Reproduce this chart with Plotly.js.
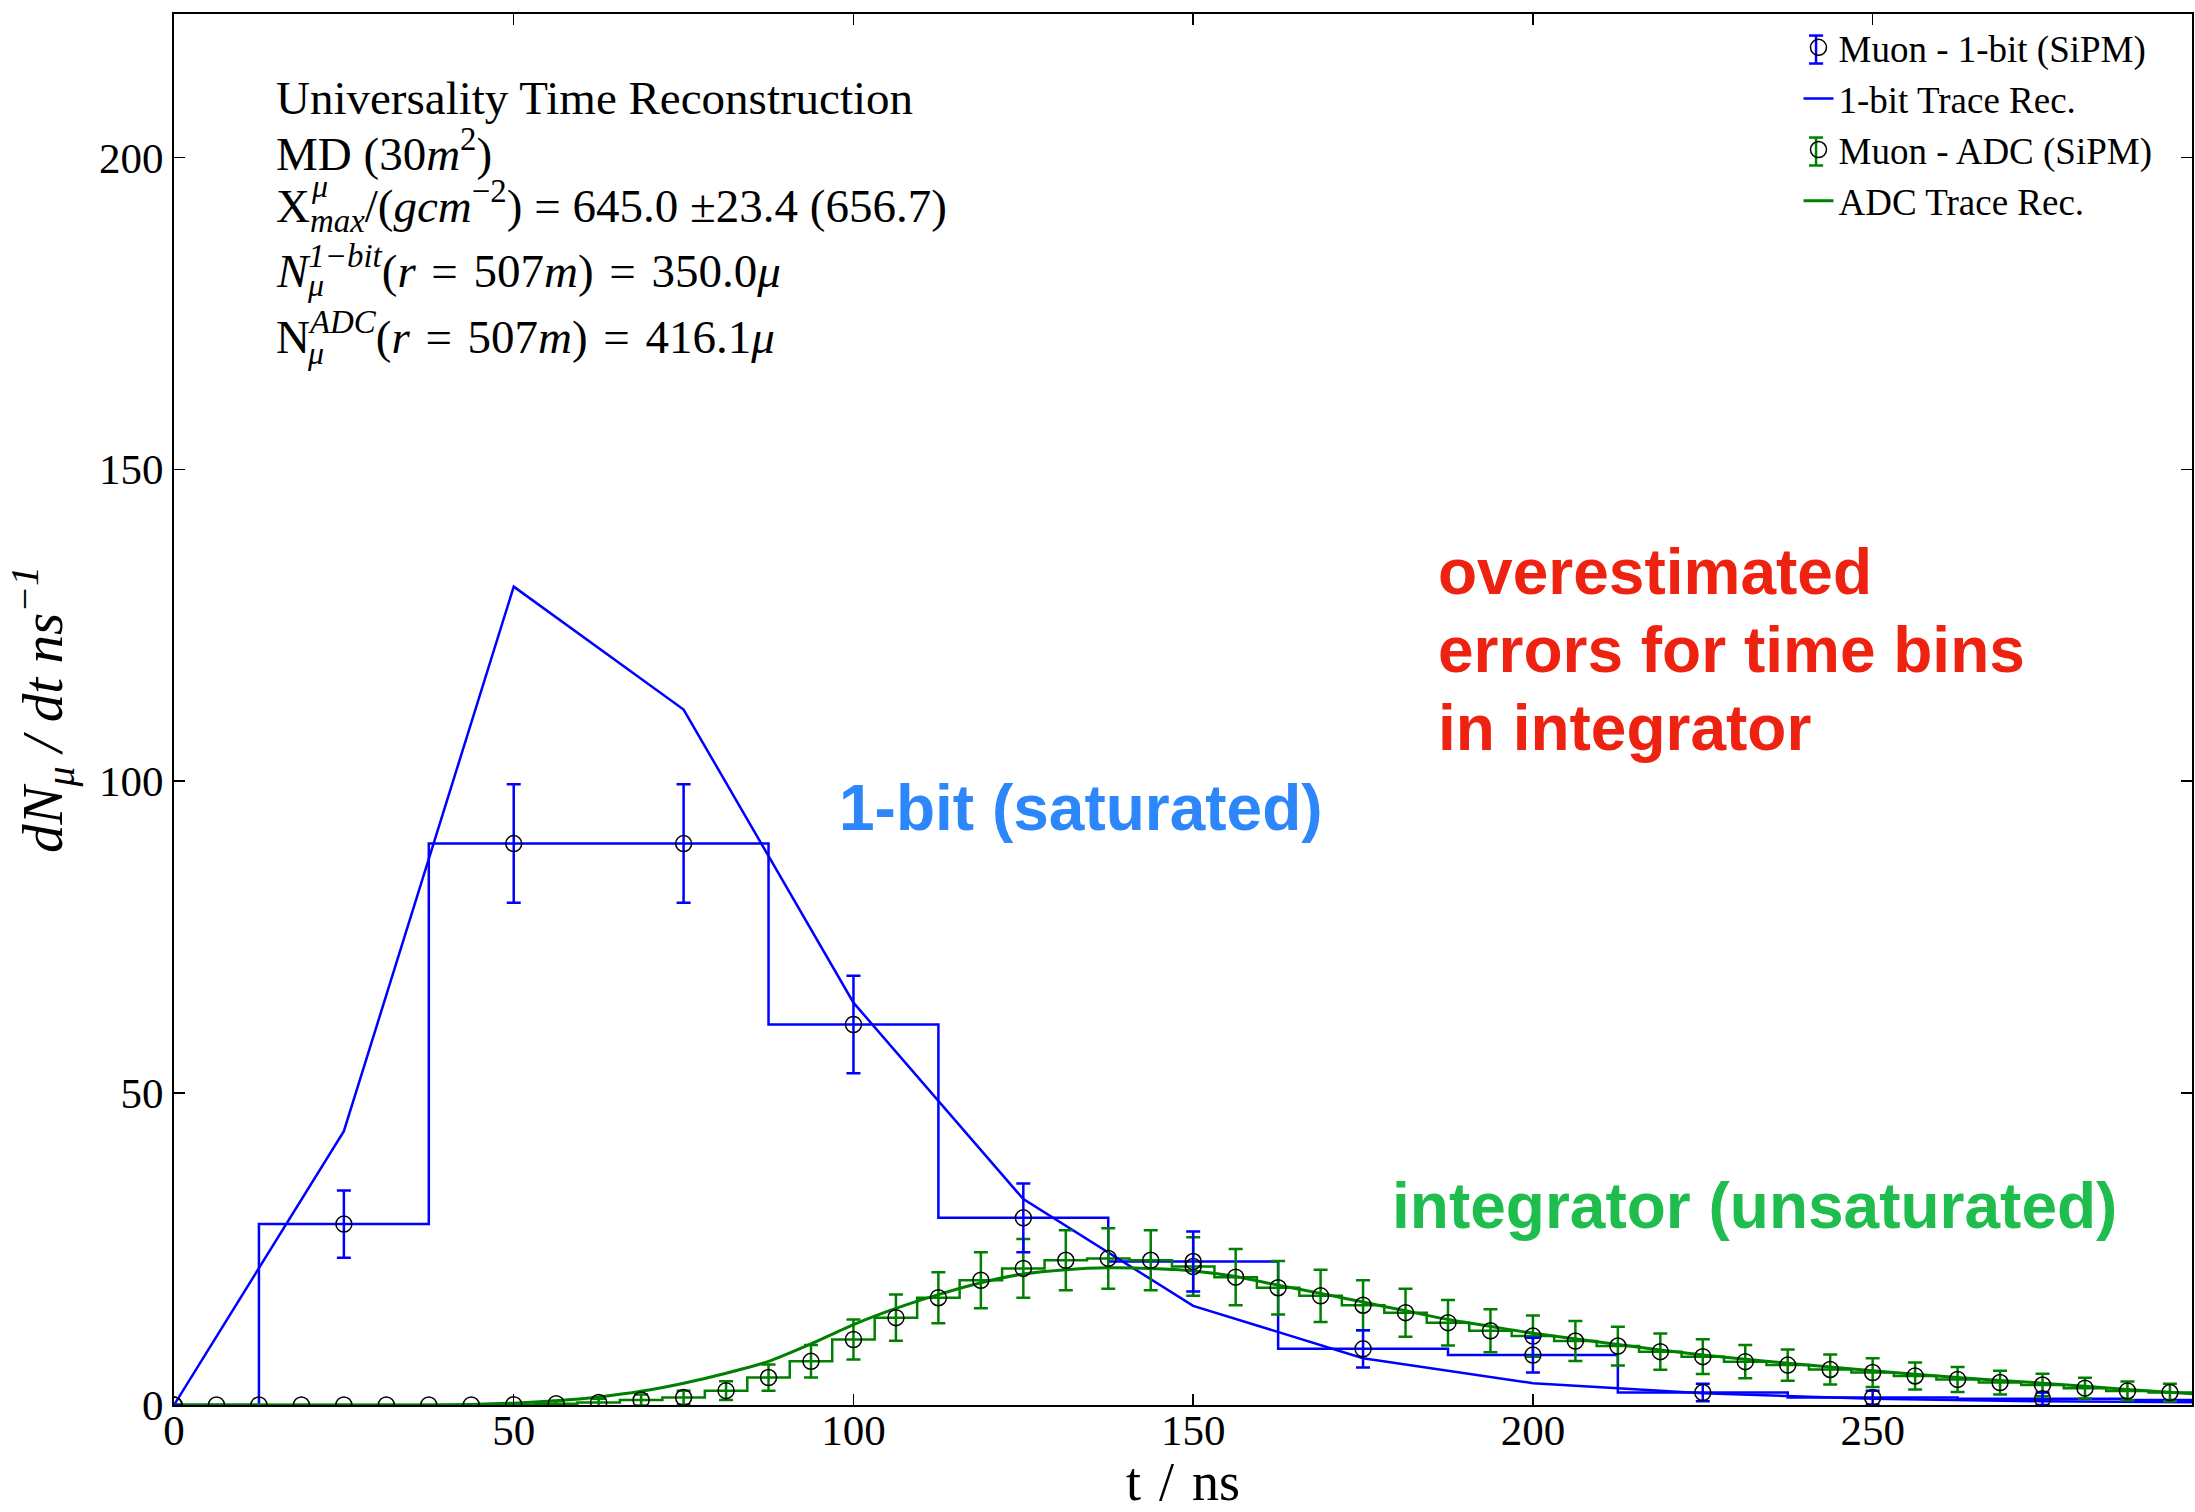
<!DOCTYPE html>
<html>
<head>
<meta charset="utf-8">
<script src="https://cdn.plot.ly/plotly-3.0.1.min.js"></script>
<style>
  html, body { margin: 0; padding: 0; background: #ffffff; }
  #chart { width: 2195px; height: 1512px; }
</style>
</head>
<body>
<div id="chart"></div>
<script>
// 1-bit counter: bin centres (ns), muon density and its uncertainty
const bitTime = [0, 25, 50, 75, 100, 125, 150, 175, 200, 225, 250, 275, 300];
const bitMuons = [0, 29, 90, 90, 61, 30, 23, 9, 8, 2, 1.2, 1.0, 0.8];
const bitErr = [0, 5.4, 9.5, 9.5, 7.8, 5.5, 4.8, 3.0, 2.8, 1.4, 1.1, 1.0, 0.9];

// 1-bit trace reconstruction
const bitTraceTime = [0, 25, 50, 75, 100, 125, 150, 175, 200, 225, 250, 275, 300];
const bitTraceRate = [0, 43.9, 131.2, 111.5, 64.5, 33.0, 15.9, 7.5, 3.5, 1.9, 1.0, 0.6, 0.4];

// ADC integrator: bin centres (ns), muon density and its uncertainty
const adcTime = [0, 6.25, 12.5, 18.75, 25, 31.25, 37.5, 43.75, 50, 56.25, 62.5, 68.75,
  75, 81.25, 87.5, 93.75, 100, 106.25, 112.5, 118.75, 125, 131.25, 137.5, 143.75,
  150, 156.25, 162.5, 168.75, 175, 181.25, 187.5, 193.75, 200, 206.25, 212.5, 218.75,
  225, 231.25, 237.5, 243.75, 250, 256.25, 262.5, 268.75, 275, 281.25, 287.5, 293.75, 300];
const adcMuons = [0, 0, 0, 0, 0, 0, 0, 0, 0.05, 0.2, 0.4, 0.8,
  1.2, 2.3, 4.4, 7.0, 10.5, 14.0, 17.2, 20.0, 21.9, 23.2, 23.5, 23.2,
  22.2, 20.5, 18.8, 17.5, 16.0, 14.8, 13.2, 11.9, 11.05, 10.25, 9.45, 8.55,
  7.75, 6.95, 6.4, 5.7, 5.2, 4.65, 4.1, 3.6, 3.2, 2.7, 2.25, 2.0, 1.8];
const adcErr = [0, 0, 0, 0, 0, 0, 0, 0, 0.2, 0.45, 0.6, 0.9,
  1.1, 1.5, 2.1, 2.6, 3.2, 3.7, 4.1, 4.5, 4.7, 4.8, 4.85, 4.8,
  4.7, 4.5, 4.3, 4.2, 4.0, 3.85, 3.65, 3.45, 3.3, 3.2, 3.1, 2.9,
  2.8, 2.65, 2.5, 2.4, 2.3, 2.15, 2.0, 1.9, 1.8, 1.65, 1.5, 1.4, 1.35];

// ADC trace reconstruction
const adcTraceTime = [0, 25, 37.5, 43.75, 50, 56.25, 62.5, 68.75, 75, 81.25, 87.5, 93.75,
  100, 106.25, 112.5, 118.75, 125, 131.25, 137.5, 143.75, 150, 156.25, 162.5, 168.75,
  175, 181.25, 187.5, 193.75, 200, 212.5, 225, 237.5, 250, 262.5, 275, 287.5, 297];
const adcTraceRate = [0, 0, 0.02, 0.1, 0.3, 0.7, 1.3, 2.2, 3.5, 5.1, 7.0, 9.8,
  12.9, 15.5, 17.7, 19.6, 21.0, 21.7, 22.0, 21.9, 21.5, 20.6, 19.2, 17.9,
  16.5, 15.1, 13.7, 12.6, 11.5, 9.7, 8.0, 6.7, 5.5, 4.4, 3.5, 2.5, 1.8];

const BLUE = '#0000ff';
const GREEN = '#008000';
const SERIF = 'Liberation Serif, Times New Roman, serif';
const SANS = 'Liberation Sans, Arial, sans-serif';
const SP = '\u2004';  // slightly wider space for the formula lines

const openCircle = { symbol: 'circle-open', size: 16, color: '#000000', line: { width: 1.5, color: '#000000' } };

const traces = [
  { // 1-bit histogram
    x: bitTime, y: bitMuons, mode: 'lines', showlegend: false, hoverinfo: 'skip',
    line: { shape: 'hvh', color: BLUE, width: 2.5 }
  },
  { // ADC histogram
    x: adcTime, y: adcMuons, mode: 'lines', showlegend: false, hoverinfo: 'skip',
    line: { shape: 'hvh', color: GREEN, width: 2.5 }
  },
  {
    x: bitTraceTime, y: bitTraceRate, mode: 'lines', name: '1-bit Trace Rec.', legendrank: 2,
    line: { color: BLUE, width: 2.5 }
  },
  {
    x: adcTraceTime, y: adcTraceRate, mode: 'lines', name: 'ADC Trace Rec.', legendrank: 4,
    line: { color: GREEN, width: 3, shape: 'spline', smoothing: 0.6 }
  },
  {
    x: adcTime, y: adcMuons, mode: 'markers', name: 'Muon - ADC (SiPM)', legendrank: 3,
    marker: openCircle,
    error_y: { type: 'data', array: adcErr, visible: true, color: GREEN, thickness: 2.5, width: 7 }
  },
  {
    x: bitTime, y: bitMuons, mode: 'markers', name: 'Muon - 1-bit (SiPM)', legendrank: 1,
    marker: openCircle,
    error_y: { type: 'data', array: bitErr, visible: true, color: BLUE, thickness: 2.5, width: 7 }
  }
];

function note(text, x, y, font) {
  return {
    text: text, xref: 'paper', yref: 'paper', x: x, y: y,
    xanchor: 'left', yanchor: 'middle', showarrow: false, font: font
  };
}

const infoFont = { family: SERIF, size: 47, color: '#000000' };
const scriptFont = { family: SERIF, size: 32, color: '#000000' };
const redFont = { family: SANS, size: 64, color: '#ee2211', weight: 700 };

const annotations = [
  note('Universality Time Reconstruction', 0.0496, 0.9396, infoFont),
  note('MD (30<i>m</i><sup>2</sup>)', 0.0496, 0.9016, infoFont),
  note('X<sub><i>max</i></sub>/(<i>gcm</i><sup>−2</sup>) = 645.0 ±23.4 (656.7)', 0.0496, 0.8620, infoFont),
  note('<i>μ</i>', 0.0668, 0.876, scriptFont),
  note('<i>N</i><sup><i>1−bit</i></sup>(<i>r</i>' + SP + '=' + SP + '507<i>m</i>)' + SP + '=' + SP + '350.0<i>μ</i>', 0.0496, 0.8176, infoFont),
  note('<i>μ</i>', 0.0648, 0.805, scriptFont),
  note('N<sup><i>ADC</i></sup>(<i>r</i>' + SP + '=' + SP + '507<i>m</i>)' + SP + '=' + SP + '416.1<i>μ</i>', 0.0496, 0.770, infoFont),
  note('<i>μ</i>', 0.0648, 0.756, scriptFont),
  note('overestimated', 0.6254, 0.5988, redFont),
  note('errors for time bins', 0.6254, 0.5428, redFont),
  note('in integrator', 0.6254, 0.4867, redFont),
  note('1-bit (saturated)', 0.3285, 0.4295, { family: SANS, size: 64, color: '#2e86fb', weight: 700 }),
  note('integrator (unsaturated)', 0.6026, 0.1431, { family: SANS, size: 64, color: '#1ebd4e', weight: 700 })
];

// error-bar glyphs beside the legend markers of the two point series
function legendBar(xc, yTop, yBot, color) {
  const hw = 0.0035;
  const base = { type: 'line', xref: 'paper', yref: 'paper', line: { color: color, width: 2.5 } };
  return [
    Object.assign({ x0: xc, x1: xc, y0: yBot, y1: yTop }, base),
    Object.assign({ x0: xc - hw, x1: xc + hw, y0: yTop, y1: yTop }, base),
    Object.assign({ x0: xc - hw, x1: xc + hw, y0: yBot, y1: yBot }, base)
  ];
}

const shapes = [].concat(
  legendBar(0.8137, 0.9845, 0.9644, BLUE),
  legendBar(0.8137, 0.9112, 0.8911, GREEN)
);

const axisCommon = {
  showgrid: false, zeroline: false, showline: true, linecolor: '#000000', linewidth: 2,
  mirror: 'ticks', ticks: 'inside', ticklen: 11, tickwidth: 1.5, tickcolor: '#000000',
  tickfont: { family: SERIF, size: 43, color: '#000000' }
};

const layout = {
  width: 2195, height: 1512,
  margin: { l: 174, r: 3, t: 14, b: 107 },
  paper_bgcolor: '#ffffff', plot_bgcolor: '#ffffff',
  font: { family: SERIF, color: '#000000' },
  showlegend: true,
  legend: {
    x: 0.805, y: 0.998, xanchor: 'left', yanchor: 'top',
    bgcolor: 'rgba(0,0,0,0)', borderwidth: 0,
    font: { family: SERIF, size: 37, color: '#000000' }
  },
  xaxis: Object.assign({}, axisCommon, {
    range: [0, 297], tick0: 0, dtick: 50, ticklabelstandoff: -14,
    title: { text: 't' + SP + '/' + SP + 'ns', font: { family: SERIF, size: 54, color: '#000000' }, standoff: 24 }
  }),
  yaxis: Object.assign({}, axisCommon, {
    range: [0, 223], tick0: 0, dtick: 50,
    title: { text: '<i>dN<sub>μ</sub> / dt ns<sup>−1</sup></i>', font: { family: SERIF, size: 57, color: '#000000' }, standoff: 18 }
  }),
  shapes: shapes,
  annotations: annotations
};

Plotly.newPlot('chart', traces, layout, { displayModeBar: false, staticPlot: true });
</script>
</body>
</html>
